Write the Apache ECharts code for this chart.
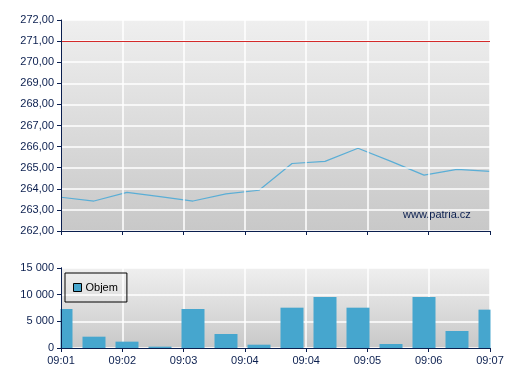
<!DOCTYPE html>
<html><head><meta charset="utf-8">
<script src="https://cdn.jsdelivr.net/npm/echarts@6/dist/echarts.min.js"></script>
<style>html,body{margin:0;padding:0;background:#fff}#c{width:507px;height:380px}</style>
</head><body><div id="c"></div>
<script>
// Data
const timeTicks = ['09:01','09:02','09:03','09:04','09:04','09:05','09:06','09:07'];
const priceValues = [263.6, 263.42, 263.83, 263.63, 263.42, 263.76, 263.93, 265.2, 265.3, 265.92, 265.3, 264.65, 264.92, 264.83];
const volumeValues = [7310, 2120, 1190, 250, 7310, 2620, 620, 7560, 9560, 7560, 750, 9560, 3190, 7190];
const refLevel = 271;

const n = priceValues.length;
const span = timeTicks.length - 1;
const xs = priceValues.map((_, i) => i * span / (n - 1));
const priceData = priceValues.map((v, i) => [xs[i], v]);
const volumeData = volumeValues.map((v, i) => [xs[i], v]);

const axisCol = '#0b1f4f';
const font = 'Arial, "Liberation Sans", sans-serif';
const bg = {type:'linear', x:0, y:0, x2:0, y2:1, colorStops:[{offset:0,color:'#efefef'},{offset:1,color:'#c8c8c8'}]};
const split = {show:true, lineStyle:{color:'#ffffff', width:1.5}};
const tick = {show:true, length:4, lineStyle:{color:axisCol}};
const lbl = {color:axisCol, fontSize:11, fontFamily:font, margin:7, showMinLabel:true, showMaxLabel:true, hideOverlap:false};

const chart = echarts.init(document.getElementById('c'), null, {renderer:'canvas'});
chart.setOption({
  animation:false,
  textStyle:{fontFamily:font},
  grid:[
    {left:61, top:20, width:429, height:211, show:true, backgroundColor:bg, borderWidth:0},
    {left:61, top:268, width:429, height:80, show:true, backgroundColor:bg, borderWidth:0}
  ],
  legend:{
    data:['Objem'], left:65, top:273, orient:'vertical',
    borderColor:'#000', borderWidth:1, padding:[9,9,9,8],
    itemWidth:8, itemHeight:8, itemGap:0,
    itemStyle:{borderColor:'#000', borderWidth:1},
    textStyle:{color:'#000', fontSize:11, fontFamily:font, padding:[0,0,0,-1]},
    icon:'rect'
  },
  xAxis:[
    {gridIndex:0, type:'value', min:0, max:span, interval:1, z:5,
     axisLine:{lineStyle:{color:axisCol, width:1}}, axisTick:tick,
     axisLabel:{show:false}, splitLine:split},
    {gridIndex:1, type:'value', min:0, max:span, interval:1,
     axisLine:{lineStyle:{color:axisCol, width:1}}, axisTick:tick,
     axisLabel:Object.assign({}, lbl, {formatter:v => timeTicks[Math.round(v)]}),
     splitLine:split},
    {gridIndex:1, type:'value', min:0, max:span, interval:1, z:6, position:'bottom',
     axisLine:{onZero:false, lineStyle:{color:axisCol, width:1}}, axisTick:tick,
     axisLabel:{show:false}, splitLine:{show:false}}
  ],
  yAxis:[
    {gridIndex:0, type:'value', min:262, max:272, interval:1, z:5,
     axisLine:{show:true, lineStyle:{color:axisCol}}, axisTick:tick,
     axisLabel:Object.assign({}, lbl, {formatter:v => v.toFixed(2).replace('.', ',')}),
     splitLine:split},
    {gridIndex:1, type:'value', min:0, max:15000, interval:5000,
     axisLine:{show:true, onZero:false, lineStyle:{color:axisCol}}, axisTick:tick,
     axisLabel:{show:false},
     splitLine:split},
    {gridIndex:1, type:'value', min:0, max:15000, interval:5000, z:6, position:'left', offset:0,
     axisLine:{show:true, onZero:false, lineStyle:{color:axisCol}}, axisTick:tick,
     axisLabel:Object.assign({}, lbl, {formatter:v => String(v).replace(/\B(?=(\d{3})+(?!\d))/g, ' ')}),
     splitLine:{show:false}}
  ],
  series:[
    {type:'line', name:'Cena', xAxisIndex:0, yAxisIndex:0, data:priceData, symbol:'none',
     lineStyle:{color:'#5aaed6', width:1.2}, itemStyle:{color:'#5aaed6'},
     markLine:{silent:true, symbol:'none', label:{show:false},
       lineStyle:{color:'#d42a2a', width:1, type:'solid'}, data:[{yAxis:refLevel}]}},
    {type:'bar', name:'Objem', xAxisIndex:1, yAxisIndex:1, data:volumeData, barWidth:23, clip:true,
     itemStyle:{color:'#46a6ce'}}
  ],
  graphic:[
    {type:'rect', z:4, shape:{x:30, y:262, width:30.5, height:86}, style:{fill:'#ffffff'}, silent:true},
    {type:'rect', z:4, shape:{x:490.5, y:262, width:16.5, height:86}, style:{fill:'#ffffff'}, silent:true},
    {type:'text', left:403, top:209, style:{text:'www.patria.cz', fill:axisCol, font:'11px ' + font}}
  ]
});
</script></body></html>
